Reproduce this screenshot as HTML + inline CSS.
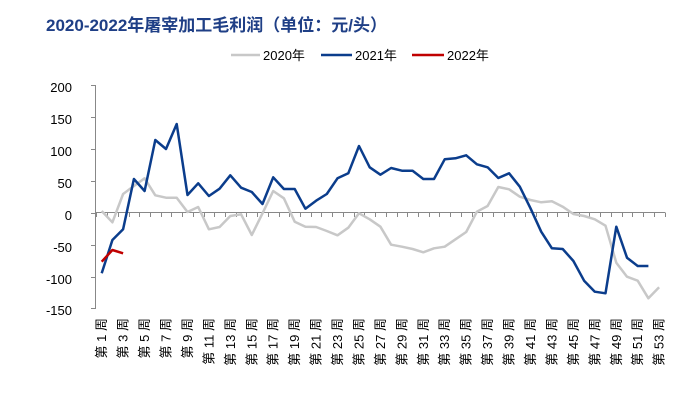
<!DOCTYPE html>
<html><head><meta charset="utf-8"><style>
body{margin:0;background:#fff}
svg{display:block}
text{font-family:"Liberation Sans","Noto Sans CJK SC",sans-serif}
</style></head><body>
<svg width="692" height="405" viewBox="0 0 692 405" xmlns="http://www.w3.org/2000/svg">
<rect width="692" height="405" fill="#fff"/>
<text x="46" y="31" font-size="17" font-weight="bold" fill="#1f3f86">2020-2022年屠宰加工毛利润（单位：元/头）</text>
<g font-size="13" fill="#000">
<line x1="231" y1="55" x2="260" y2="55" stroke="#c8c8c8" stroke-width="2.5"/><text x="263" y="60">2020年</text>
<line x1="321" y1="55" x2="352" y2="55" stroke="#0b3d8c" stroke-width="2.5"/><text x="355" y="60">2021年</text>
<line x1="412" y1="55" x2="444" y2="55" stroke="#c00000" stroke-width="2.5"/><text x="447" y="60">2022年</text>
</g>
<g stroke="#888" stroke-width="1" fill="none">
<line x1="95.5" y1="85" x2="95.5" y2="309"/>
<line x1="91" y1="85.5" x2="95" y2="85.5"/><line x1="91" y1="117.5" x2="95" y2="117.5"/><line x1="91" y1="149.5" x2="95" y2="149.5"/><line x1="91" y1="181.5" x2="95" y2="181.5"/><line x1="91" y1="213.5" x2="95" y2="213.5"/><line x1="91" y1="245.5" x2="95" y2="245.5"/><line x1="91" y1="277.5" x2="95" y2="277.5"/><line x1="91" y1="308.5" x2="95" y2="308.5"/>
<line x1="95" y1="212.5" x2="665" y2="212.5"/>
</g>
<g id="xt" stroke="#888" stroke-width="1"></g>
<g font-size="13" fill="#000" text-anchor="end">
<text x="72" y="92">200</text><text x="72" y="124">150</text><text x="72" y="156">100</text><text x="72" y="188">50</text><text x="72" y="220">0</text><text x="72" y="252">-50</text><text x="72" y="284">-100</text><text x="72" y="315">-150</text>
</g>
<g id="xl" font-size="13" fill="#000" text-anchor="end"></g>
<polyline fill="none" stroke="#c8c8c8" stroke-width="2.5" stroke-linejoin="round" id="g0"/>
<polyline fill="none" stroke="#0b3d8c" stroke-width="2.5" stroke-linejoin="round" id="g1"/>
<polyline fill="none" stroke="#c00000" stroke-width="2.5" stroke-linejoin="round" id="g2"/>
<script>
var X=function(n){return 101.7+10.72*(n-1)};
var a=[211,222.3,194,186,178.3,195.3,197.7,197.7,212,207,229.3,227,216,214.3,235,213.3,191,198.3,221.7,226.7,227,231,235.3,227.7,213.3,219.3,226.7,244.7,246.7,249,252.3,248.3,246.7,239.3,232,211.7,206,187,189.3,196.7,200,202.3,201.3,206.7,214,216,219.3,225.7,262.7,276.7,280.7,298.3,287.3];
var b=[273.3,240,229.3,179,191,140,149,124,195,183.3,196,188.7,175.3,187.7,192,204,177.3,189,189,208.7,200.7,194,178.3,173.3,146,167.3,174.7,168,170.7,170.7,179,179,159.3,158.3,155.3,164.3,167.3,178,173.3,186.7,208.3,231.7,248.3,249,261,280.7,291.7,293.3,226.7,257.7,266,266];
var c=[261.7,250,253.3];
function pts(v){return v.map(function(y,i){return X(i+1).toFixed(1)+","+y}).join(" ")}
document.getElementById("g0").setAttribute("points",pts(a));
document.getElementById("g1").setAttribute("points",pts(b));
document.getElementById("g2").setAttribute("points",pts(c));
var ns="http://www.w3.org/2000/svg",t=document.getElementById("xt"),l=document.getElementById("xl");
for(var i=0;i<=53;i++){var x=Math.round(X(i+1)-5.36)+0.5;var e=document.createElementNS(ns,"line");e.setAttribute("x1",x);e.setAttribute("x2",x);e.setAttribute("y1",212.5);e.setAttribute("y2",217);t.appendChild(e);}
for(var n=1;n<=53;n+=2){var s=document.createElementNS(ns,"text");var x=X(n)+4.5;s.setAttribute("transform","translate("+x+",318) rotate(-90)");s.textContent="第 "+n+" 周";l.appendChild(s);}
</script>
</svg>
</body></html>
